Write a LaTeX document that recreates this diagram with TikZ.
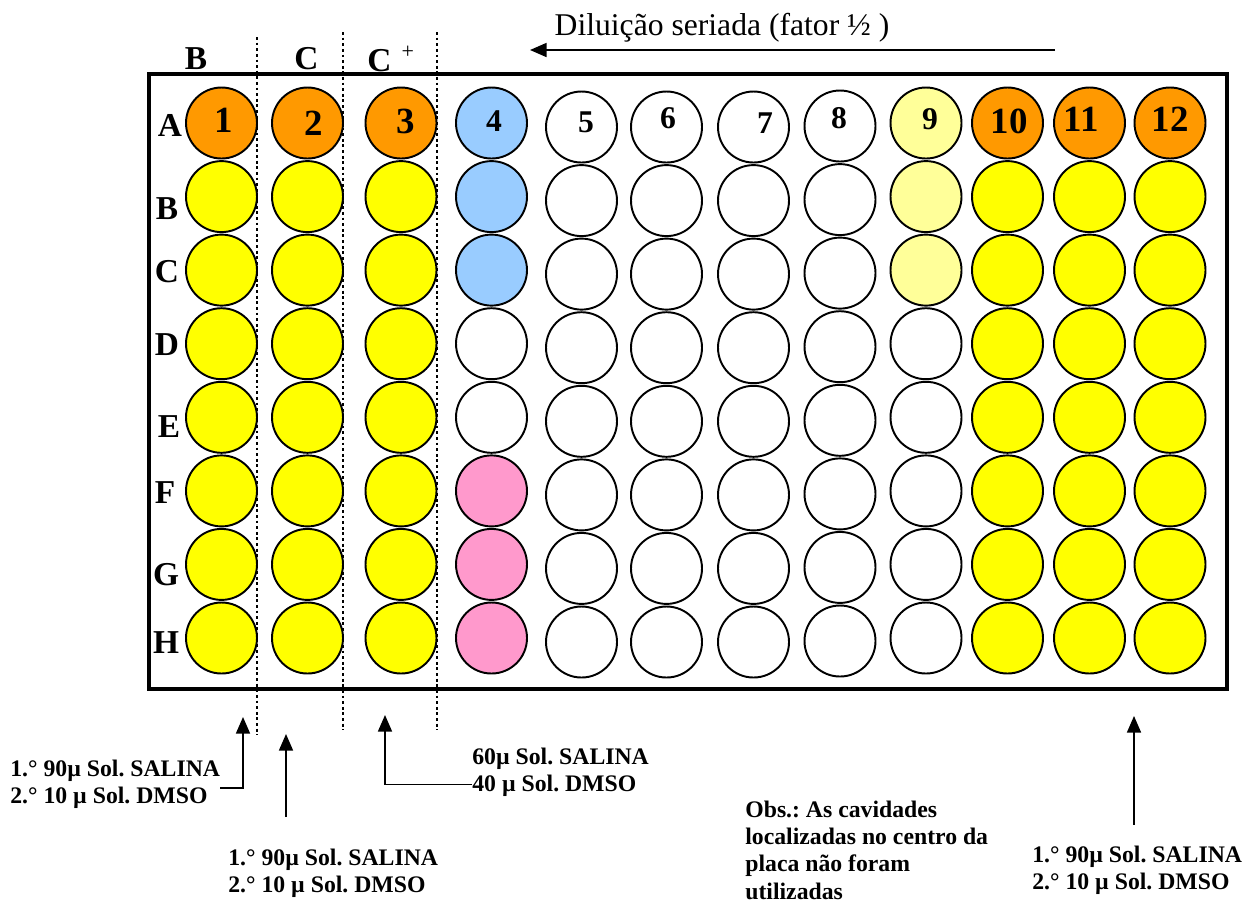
\documentclass[tikz,border=0pt]{standalone}
\usepackage{fontspec}
\setmainfont{Liberation Serif}
\usetikzlibrary{arrows.meta}
\definecolor{wellO}{HTML}{FF9900}
\definecolor{wellY}{HTML}{FFFF00}
\definecolor{wellP}{HTML}{FFFF99}
\definecolor{wellB}{HTML}{99CCFF}
\definecolor{wellK}{HTML}{FF99CC}
\definecolor{wellW}{HTML}{FFFFFF}
\frenchspacing

\begin{document}
\begin{tikzpicture}[x=0.2mm, y=-0.2mm,
  well/.style={draw,circle,line width=1.1pt,inner sep=0pt,minimum size=14.2mm,fill=#1},
  num/.style={inner sep=0pt,font=\fontsize{#1}{#1}\selectfont\bfseries},
  lab/.style={inner sep=0pt,font=\fontsize{19}{19}\selectfont\bfseries},
  note/.style={inner sep=0pt,align=left,font=\fontsize{13.5}{15.4}\selectfont\bfseries},
  sep/.style={line width=1.6pt,dash pattern=on 1.6pt off 1.6pt},
  arr/.style={-{Triangle[length=3.3mm,width=2.8mm]},line width=0.8pt}]
\useasboundingbox (0,0) rectangle (1250,904);
\draw[line width=1.8pt] (149,74) rectangle (1227,689);
\foreach \r/\y/\fills in {
  A/123/{wellO,wellO,wellO,wellB,wellW,wellW,wellW,wellW,wellP,wellO,wellO,wellO},
  B/196.6/{wellY,wellY,wellY,wellB,wellW,wellW,wellW,wellW,wellP,wellY,wellY,wellY},
  C/270.1/{wellY,wellY,wellY,wellB,wellW,wellW,wellW,wellW,wellP,wellY,wellY,wellY},
  D/343.7/{wellY,wellY,wellY,wellW,wellW,wellW,wellW,wellW,wellW,wellY,wellY,wellY},
  E/417.3/{wellY,wellY,wellY,wellW,wellW,wellW,wellW,wellW,wellW,wellY,wellY,wellY},
  F/490.9/{wellY,wellY,wellY,wellK,wellW,wellW,wellW,wellW,wellW,wellY,wellY,wellY},
  G/564.4/{wellY,wellY,wellY,wellK,wellW,wellW,wellW,wellW,wellW,wellY,wellY,wellY},
  H/638/{wellY,wellY,wellY,wellK,wellW,wellW,wellW,wellW,wellW,wellY,wellY,wellY}}
  \foreach \f [count=\c] in \fills {
    \pgfmathsetmacro\wx{{221.5,307.5,401,491.5,581.5,666.5,753.5,840,926,1007.5,1089.5,1170}[\c-1]}
    \pgfmathsetmacro\dy{{0,0,0,0,4,4,4,3,0,0,0,0}[\c-1]}
    \node[well=\f] (w\r\c) at (\wx,\y+\dy) {};
  }
\foreach \n/\x/\y/\s in {1/224/120/21,2/314/123/21,3/406/121/21,4/494/121/18,5/586/122/18,6/668/118/18,
  7/765/123/18,8/839/118/18,9/930/119/18,10/1009/121/21,11/1081/119/21,12/1170/119/21}
  \node[num=\s] (n\n) at (\x,\y) {\n};
\foreach \r/\x/\y in {A/170/125,B/167/209,C/167/272,D/167/345,E/169/427,F/165/493,G/166/575,H/166/643}
  \node[lab] (r\r) at (\x,\y) {\r};
\node[lab] (hB) at (196,59) {B};
\node[lab] (hC) at (306.5,59) {C};
\node[lab,anchor=west] (hCp) at (367,59) {C\hspace{5.8pt}\raisebox{6.9pt}{\fontsize{12.5}{12.5}\selectfont\mdseries+}};
\foreach \x/\t/\b in {257/37/735,343/32/730,437/32/730}
  \draw[sep] (\x,\t) -- (\x,\b);
\node[inner sep=0pt,anchor=base,font=\fontsize{18}{18}\selectfont] (dil) at (722,35) {Diluição seriada (fator ½ )};
\coordinate (dilE) at (1055,50);
\coordinate (dilW) at (530,50);
\draw[arr] (dilE) -- (dilW);
\node[note,anchor=north west] (sal1) at (10,760) {1.° 90µ Sol. SALINA\\2.° 10 µ Sol. DMSO};
\node[note,anchor=north west] (sal2) at (228,849) {1.° 90µ Sol. SALINA\\2.° 10 µ Sol. DMSO};
\node[note,anchor=north west] (sal3) at (472,748) {60µ Sol. SALINA\\40 µ Sol. DMSO};
\node[note,anchor=north west] (sal4) at (1032,846) {1.° 90µ Sol. SALINA\\2.° 10 µ Sol. DMSO};
\node[note,anchor=north west] (obs) at (745,801)
  {Obs.: As cavidades\\localizadas no centro da\\placa não foram\\utilizadas};
\coordinate (t1) at (243,717);
\coordinate (t2) at (286,734);
\coordinate (b2) at (286,817);
\coordinate (t3) at (385,715);
\coordinate (t4) at (1134,716);
\draw[arr] ([yshift=-2pt]sal1.east) -| (t1);
\draw[arr] (b2) -- (t2);
\draw[arr] ([yshift=-6.8pt]sal3.west) -| (t3);
\draw[arr] ([yshift=12pt]sal4.north -| t4) -- (t4);
\end{tikzpicture}
\end{document}
